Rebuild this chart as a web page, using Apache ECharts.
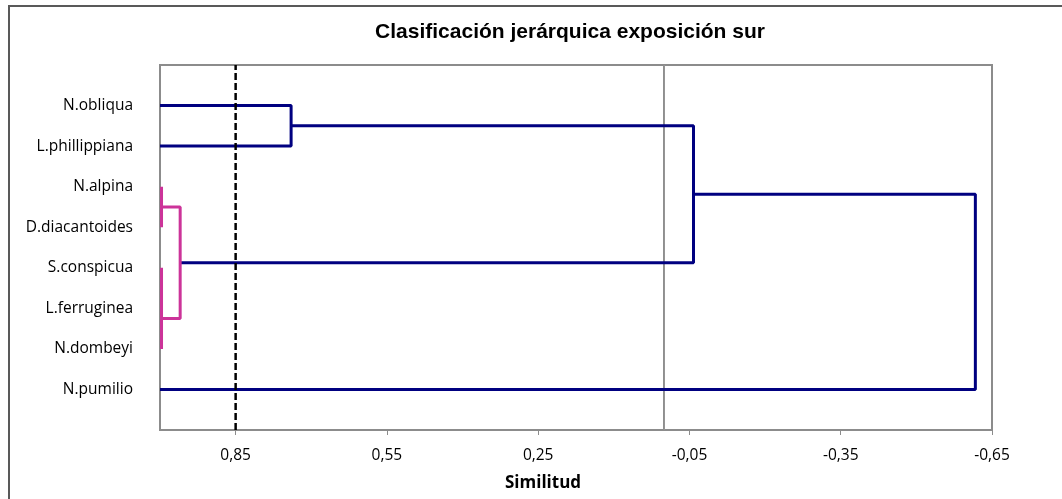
<!DOCTYPE html>
<html>
<head>
<meta charset="utf-8">
<script src="https://cdn.jsdelivr.net/npm/echarts@6/dist/echarts.min.js"></script>
<style>
html,body{margin:0;padding:0;background:#fff;}
#chart{width:1062px;height:499px;}
</style>
</head>
<body>
<div id="chart"></div>
<script>
// Leaves, bottom (y=1) to top (y=8)
var leafNames = ['N.pumilio','N.dombeyi','L.ferruginea','S.conspicua','D.diacantoides','N.alpina','L.phillippiana','N.obliqua'];
var xTicks = [0.85, 0.55, 0.25, -0.05, -0.35, -0.65];

// Dendrogram paths [similitud, leaf position]
var navyPaths = [
  [[1.0, 8], [0.74, 8], [0.74, 7], [1.0, 7]],
  [[0.74, 7.5], [-0.058, 7.5], [-0.058, 4.125], [0.96, 4.125]],
  [[-0.058, 5.81], [-0.617, 5.81], [-0.617, 1], [1.0, 1]]
];
var magentaPaths = [
  [[0.997, 6], [0.997, 5]],
  [[0.997, 5.5], [0.96, 5.5], [0.96, 2.75], [0.997, 2.75]],
  [[0.997, 4], [0.997, 2]]
];
var cutLevel = 0.85;
var zeroLine = 0;

var series = [];
navyPaths.forEach(function (p) {
  series.push({type:'line', data:p, showSymbol:false, symbol:'none', silent:true, animation:false,
    lineStyle:{color:'#000080', width:3}, z:4});
});
magentaPaths.forEach(function (p) {
  series.push({type:'line', data:p, showSymbol:false, symbol:'none', silent:true, animation:false,
    lineStyle:{color:'#cc3399', width:3}, z:5});
});
series.push({type:'line', data:[[zeroLine,0],[zeroLine,9]], showSymbol:false, symbol:'none', silent:true, animation:false,
  lineStyle:{color:'#999999', width:1}, z:2});
series.push({type:'line', data:[[cutLevel,0],[cutLevel,9]], showSymbol:false, symbol:'none', silent:true, animation:false,
  lineStyle:{color:'#000000', width:2.5, type:[7,3]}, z:6});

var chart = echarts.init(document.getElementById('chart'), null, {renderer:'canvas'});
chart.setOption({
  backgroundColor:'#fff',
  animation:false,
  title:{
    text:'Clasificación jerárquica exposición sur',
    left:565, top:17, textAlign:'center',
    textStyle:{fontFamily:'Liberation Sans', fontWeight:'bold', fontSize:21, color:'#000'}
  },
  graphic:[
    {type:'rect', shape:{x:9, y:6, width:1100, height:600}, style:{fill:'none', stroke:'#595959', lineWidth:2}, z:0},
    {type:'text', left:505, top:475, style:{text:'Similitud', font:'bold 17px "Open Sans"', fill:'#000'}}
  ],
  grid:{left:160, top:65, right:70, bottom:69, show:true, borderColor:'#8c8c8c', borderWidth:2, backgroundColor:'transparent'},
  xAxis:{
    type:'value', inverse:true, min:-0.65, max:1.0, interval:0.3,
    splitLine:{show:false},
    axisLine:{show:true, lineStyle:{color:'#8c8c8c', width:2}},
    axisTick:{show:true, length:5, lineStyle:{color:'#8c8c8c', width:1}},
    axisLabel:{showMaxLabel:false, margin:18, fontFamily:'Open Sans', fontSize:15.5, color:'#000',
      formatter:function(v){ var r=Math.round(v*100)/100; if (xTicks.indexOf(r)<0) return ''; return r.toFixed(2).replace('.',','); }}
  },
  yAxis:{
    type:'value', min:0, max:9, interval:1,
    splitLine:{show:false},
    axisLine:{show:true, lineStyle:{color:'#8c8c8c', width:2}},
    axisTick:{show:false},
    axisLabel:{margin:27, fontFamily:'Open Sans', fontSize:15.5, color:'#000',
      formatter:function(v){ var i=Math.round(v)-1; return (i>=0 && i<leafNames.length) ? leafNames[i] : ''; }}
  },
  series:series
});
</script>
</body>
</html>
